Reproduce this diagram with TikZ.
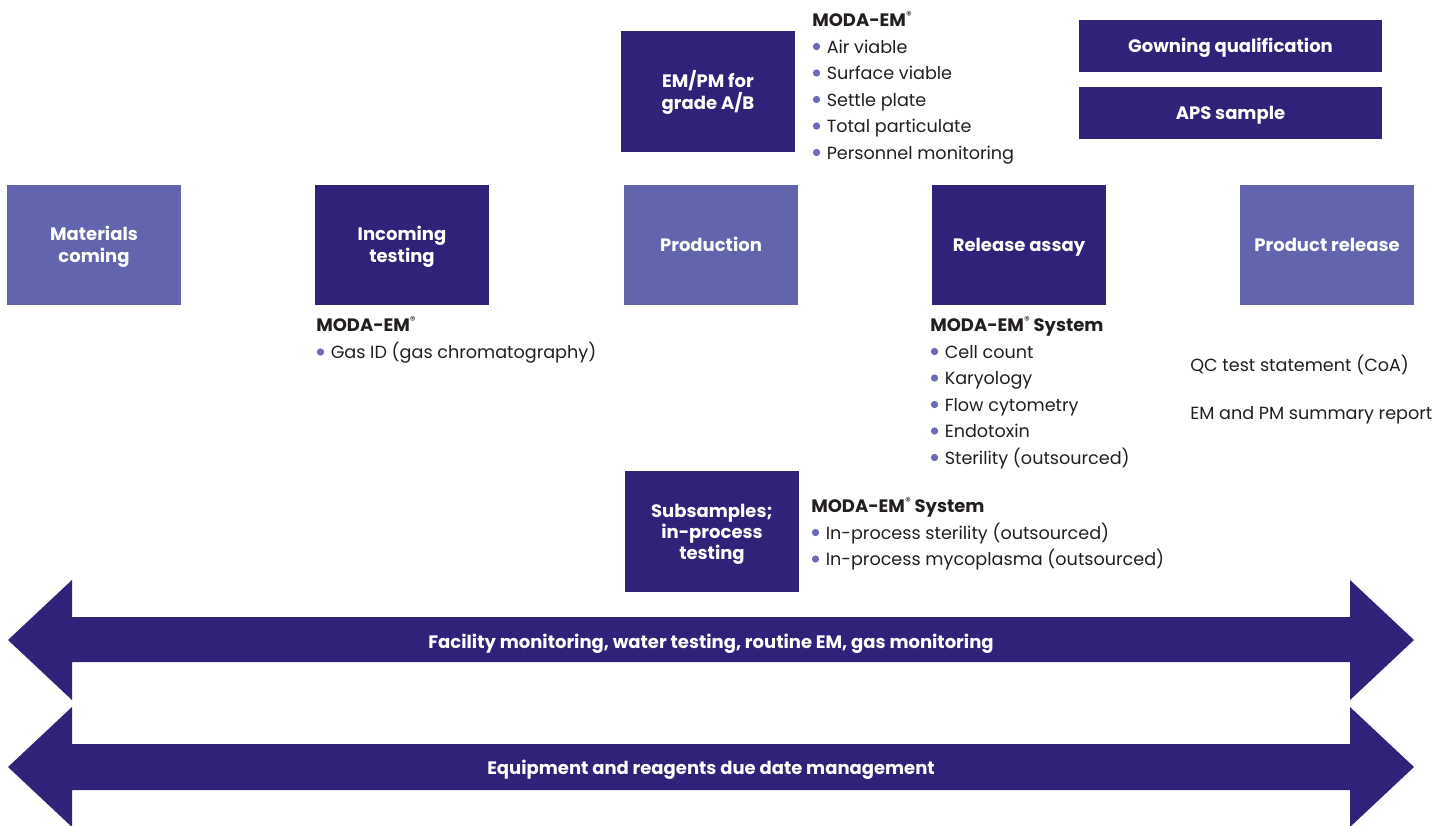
\documentclass[tikz,border=0pt]{standalone}
\usepackage{fontspec}
\setmainfont{Poppins}
\definecolor{dkp}{HTML}{2E2378}
\definecolor{ltp}{HTML}{6264AE}
\definecolor{bulc}{HTML}{6B6BB8}
\definecolor{txtc}{HTML}{231F20}
\tikzset{
  box/.style={draw=none, inner sep=0pt, minimum width=130.5pt, minimum height=90.5pt, align=center, text=white, text depth=-3.5pt, font=\bfseries\fontsize{13.5}{16.5}\selectfont},
  dark/.style={box, fill=dkp},
  light/.style={box, fill=ltp},
  one/.style={text height=9.75pt},
  two/.style={text height=26.25pt},
  three/.style={text height=41.25pt, font=\bfseries\fontsize{13.5}{15.75}\selectfont},
  wide/.style={dark, one, text depth=-1.5pt, minimum width=227.25pt, minimum height=39pt},
  txt/.style={inner sep=0pt, anchor=base west, text=txtc, font=\fontsize{13.2}{16}\selectfont},
  hdtxt/.style={txt, font=\bfseries\fontsize{13.5}{16}\selectfont},
  band/.style={fill=dkp, draw=none},
  bandtxt/.style={inner sep=0pt, anchor=base, text=white, font=\bfseries\fontsize{13.5}{16}\selectfont}
}
\newcommand\reg{\raisebox{5pt}{\mdseries\fontsize{8.5}{9}\selectfont ®}}
\newcommand\bl[4]{\fill[bulc] (#2+4.5,#3-6.5) circle[radius=2.75pt]; \node[txt] (#1) at (#2+14.5,#3) {#4};}
\begin{document}
\begin{tikzpicture}[x=0.75pt, y=-0.75pt]
\useasboundingbox (0,0) rectangle (1456,825);
% main row
\node[light, two] (mat) at (94,245) {Materials\\coming};
\node[dark, two] (inc) at (402,245) {Incoming\\testing};
\node[light, one] (prod) at (711,245) {Production};
\node[dark, one] (rel) at (1019,245) {Release assay};
\node[light, one] (pr) at (1327,245) {Product release};
% other boxes
\node[dark, two] (empm) at (708,91.5) {EM/PM for\\grade A/B};
\node[dark, three] (sub) at (712,531.5) {Subsamples;\\in-process\\testing};
\node[wide] (gown) at (1230.5,46) {Gowning qualification};
\node[wide] (aps) at (1230.5,113) {APS sample};
% EM/PM text
\node[hdtxt] (h1) at (812,26) {MODA-EM\reg};
\bl{a1}{812}{53}{Air viable}
\bl{a2}{812}{79.5}{Surface viable}
\bl{a3}{812}{106}{Settle plate}
\bl{a4}{812}{132.5}{Total particulate}
\bl{a5}{812}{159}{Personnel monitoring}
% incoming text
\node[hdtxt] (h2) at (316,331.5) {MODA-EM\reg};
\bl{b1}{316}{358.5}{Gas ID (gas chromatography)}
% release text
\node[hdtxt] (h3) at (930,331.5) {MODA-EM\reg{} System};
\bl{c1}{930}{358}{Cell count}
\bl{c2}{930}{384.5}{Karyology}
\bl{c3}{930}{411}{Flow cytometry}
\bl{c4}{930}{437.5}{Endotoxin}
\bl{c5}{930}{464}{Sterility (outsourced)}
% subsample text
\node[hdtxt] (h4) at (811,512.5) {MODA-EM\reg{} System};
\bl{d1}{811}{539}{In-process sterility (outsourced)}
\bl{d2}{811}{565.5}{In-process mycoplasma (outsourced)}
% product release text
\node[txt] (q1) at (1190,371.5) {QC test statement (CoA)};
\node[txt] (q2) at (1190,419.5) {EM and PM summary report};
% bands
\fill[band] (8,640) -- (72,580) -- (72,617) -- (1350,617) -- (1350,580) -- (1414,640) -- (1350,700) -- (1350,662) -- (72,662) -- (72,700) -- cycle;
\node[bandtxt] (f1) at (711,648) {Facility monitoring, water testing, routine EM, gas monitoring};
\fill[band] (8,767) -- (72,707) -- (72,744) -- (1350,744) -- (1350,707) -- (1414,767) -- (1350,827) -- (1350,790) -- (72,790) -- (72,827) -- cycle;
\node[bandtxt] (f2) at (711,774) {Equipment and reagents due date management};
\end{tikzpicture}
\end{document}
